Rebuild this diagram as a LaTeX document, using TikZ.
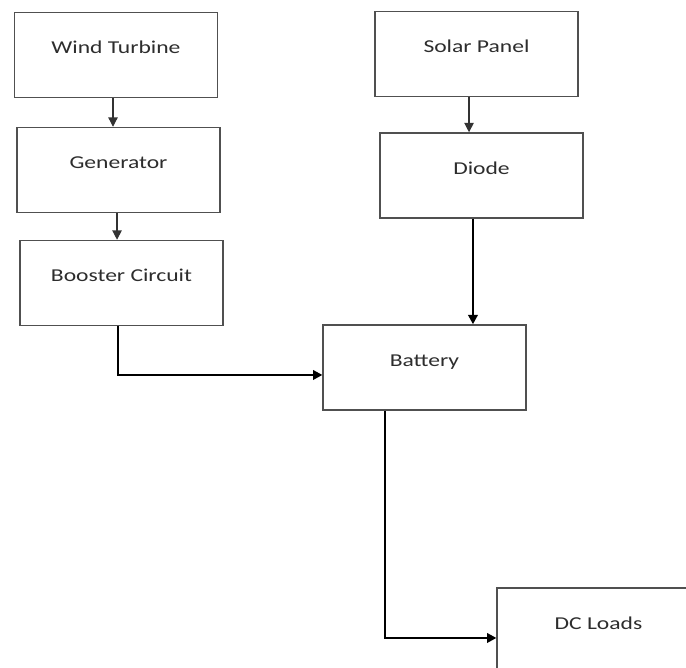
\documentclass[tikz,border=0pt]{standalone}
\usepackage{fontspec}
\setmainfont{Carlito}[FakeStretch=1.3]
\usetikzlibrary{positioning,arrows.meta,calc}
\definecolor{BoxEdge}{RGB}{80,80,80}
\definecolor{LabelInk}{RGB}{45,45,45}

\begin{document}
\begin{tikzpicture}[x=0.75pt, y=-0.75pt,
  every node/.style={font=\fontsize{13.6}{16}\selectfont, text=LabelInk, align=center},
  block/.style={draw=BoxEdge, line width=1.1pt, fill=white, minimum width=152pt, minimum height=63.75pt, text height=9pt, text depth=10.7pt},
  thinflow/.style={-{Triangle[length=7pt, width=7pt]}, line width=0.9pt, black!80},
  thickflow/.style={-{Triangle[length=7pt, width=7pt]}, line width=1.8pt, black}]
  \path[use as bounding box, clip] (0,0) rectangle (686,668);
  \node[block] (wind) at (116,55) {Wind Turbine};
  \node[block] (gen) at (118.5,170) {Generator};
  \node[block] (boost) at (121.5,283) {Booster Circuit};
  \node[block] (solar) at (476.5,54) {Solar Panel};
  \node[block] (diode) at (481.5,175.5) {Diode};
  \node[block] (battery) at (424.5,367.5) {Battery};
  \node[block] (loads) at (598.5,630.5) {DC Loads};
  \draw[thinflow] ([xshift=-2.25pt]wind.south) -- ([xshift=-2.25pt]wind.south |- gen.north);
  \draw[thinflow] ([xshift=-1.1pt]gen.south) -- ([xshift=-1.1pt]gen.south |- boost.north);
  \draw[thinflow] ([xshift=-5.6pt]solar.south) -- ([xshift=-5.6pt]solar.south |- diode.north);
  \draw[thickflow] ([xshift=-6.4pt]diode.south) -- ([xshift=-6.4pt]diode.south |- battery.north);
  \draw[thickflow] ([xshift=-2.6pt]boost.south) |- ([yshift=-5.6pt]battery.west);
  \draw[thickflow] ([xshift=-29.6pt]battery.south) |- ([yshift=-5.6pt]loads.west);
\end{tikzpicture}
\end{document}
